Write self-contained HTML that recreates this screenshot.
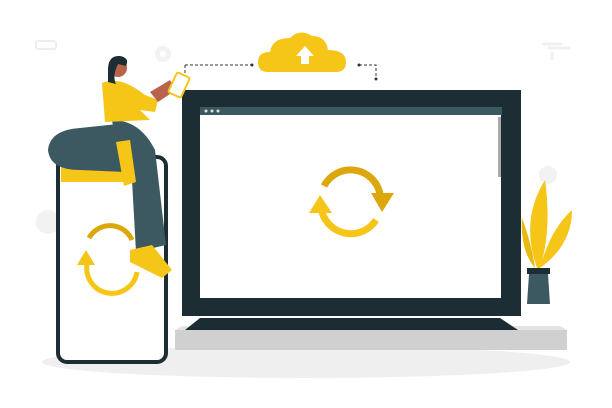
<!DOCTYPE html>
<html><head><style>body{margin:0;background:#fff}svg{display:block}</style></head><body>
<svg width="612" height="408" viewBox="0 0 612 408" xmlns="http://www.w3.org/2000/svg">
<ellipse cx="306" cy="362" rx="264" ry="16" fill="#efefef"/>
<rect x="36" y="41" width="20" height="8" rx="2" fill="none" stroke="#eeeeee" stroke-width="2"/>
<circle cx="163" cy="54" r="8" fill="#f2f2f2"/><circle cx="163" cy="54" r="3" fill="#fff"/>
<circle cx="48" cy="222" r="12" fill="#f2f2f2"/>
<circle cx="548" cy="175" r="9" fill="#f2f2f2"/>
<path d="M542 44h20M548 48h22M552 52v8" stroke="#f0f0f0" stroke-width="3"/>
<path d="M175 330 L567 330 L567 350 L175 350 Z" fill="#d0d0d0"/>
<path d="M175 330 L567 330 L560 326 L182 326Z" fill="#e4e4e4"/>
<path d="M185 330 L200 318 L500 318 L518 330Z" fill="#1b2c33"/>
<rect x="182" y="90" width="339" height="226" fill="#1c2d34"/>
<rect x="200" y="107" width="302" height="8" fill="#3c5962"/>
<rect x="200" y="115" width="301" height="183" fill="#fff"/>
<rect x="498" y="117" width="3" height="60" fill="#aaa"/>
<circle cx="206" cy="111" r="1.5" fill="#ddd"/><circle cx="212" cy="111" r="1.5" fill="#ddd"/><circle cx="218" cy="111" r="1.5" fill="#ddd"/>
<g fill="none" stroke-width="7">
<path d="M324 186 A30 30 0 0 1 380 194" stroke="#dba70a"/>
<path d="M376 220 A30 30 0 0 1 322 212" stroke="#f5c518"/>
</g>
<path d="M371 193 L394 193 L382 212Z" fill="#dba70a"/>
<path d="M309 213 L332 213 L320 195Z" fill="#f5c518"/>
<path d="M268 72 Q258 72 258 62 Q258 52 270 52 Q272 38 290 38 Q300 28 312 36 Q326 36 328 50 Q346 50 346 62 Q346 72 336 72Z" fill="#f5c518"/>
<path d="M301 64 V56 H296 L305 46 L314 56 H309 V64Z" fill="#fff"/>
<path d="M185 65 H252 M185 65 V82 M359 65 H376 V79" stroke="#333" stroke-width="1" stroke-dasharray="3 2" fill="none"/>
<circle cx="252" cy="65" r="1.5" fill="#333"/><circle cx="359" cy="65" r="1.5" fill="#333"/><circle cx="376" cy="79" r="1.5" fill="#333"/>
<rect x="58" y="157" width="108" height="205" rx="9" fill="#fff" stroke="#1c2d34" stroke-width="4"/>
<rect x="61" y="161" width="75" height="21" fill="#f5c518"/>
<g fill="none" stroke="#f5c518" stroke-width="5">
<path d="M89 238 A24 24 0 0 1 132 240" stroke="#dba70a"/>
<path d="M137 272 A24 24 0 0 1 87 264"/>
</g>
<path d="M77 265 L95 265 L86 250Z" fill="#f5c518"/>
<path d="M537 268 Q520 220 545 180 Q552 230 540 268Z" fill="#f5c518"/>
<path d="M540 268 Q550 230 572 210 Q572 245 540 268Z" fill="#f5c518"/>
<path d="M535 268 Q520 250 522 218 Q532 245 535 268Z" fill="#e8b90f"/>
<path d="M527 268 H550 V274 H527Z" fill="#1c2d34"/>
<path d="M529 274 H548 L550 304 H527Z" fill="#3c5962"/>
<path d="M48 150 Q50 130 80 128 L118 124 Q128 150 125 172 L80 170 Q50 170 48 150Z" fill="#3c5962"/>
<path d="M112 120 Q140 120 155 150 L166 245 L136 252 L132 180 Q118 160 112 120Z" fill="#3c5962"/>
<path d="M102 83 Q120 75 145 95 L158 100 L155 112 L140 110 L150 120 L105 122Z" fill="#f5c518"/>
<path d="M116 142 L130 140 L136 182 L124 186Z" fill="#f5c518"/>
<path d="M130 250 L152 245 L172 270 L162 278 L130 262Z" fill="#f5c518"/>
<circle cx="118" cy="68" r="9" fill="#b8644d"/>
<path d="M108 70 Q108 55 120 56 Q130 58 126 66 L118 64 Q112 76 116 84 L108 82Z" fill="#1c2d34"/>
<path d="M150 92 L170 80 L176 90 L158 102Z" fill="#b8644d"/>
<rect x="172" y="74" width="14" height="22" rx="2" fill="#fff" stroke="#f5c518" stroke-width="2" transform="rotate(25 179 85)"/>
</svg>
</body></html>
